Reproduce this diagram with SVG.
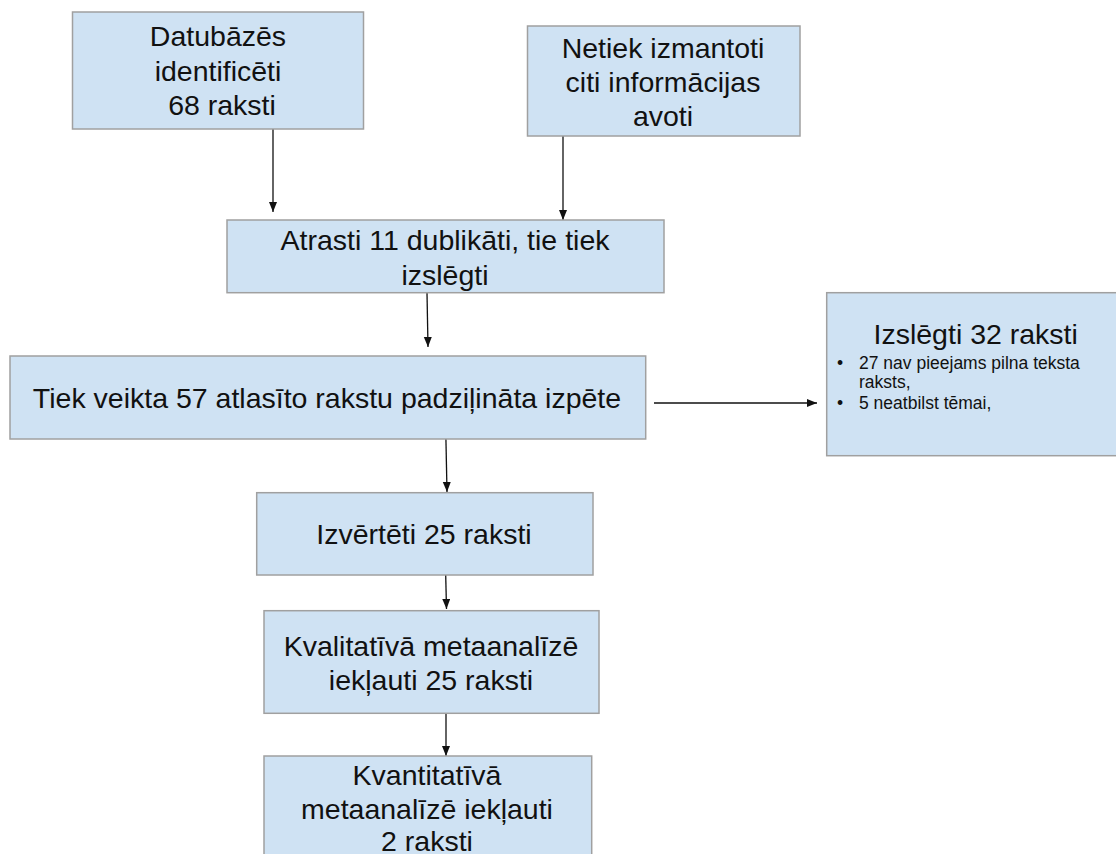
<svg xmlns="http://www.w3.org/2000/svg" width="1116" height="854" viewBox="0 0 1116 854">
  <style>
    .box { fill: #cfe2f3; stroke: #a0a0a0; stroke-width: 1.5; }
    .t { font-family: "Liberation Sans", Arial, sans-serif; font-size: 28.5px; fill: #111; text-anchor: middle; }
    .s { font-family: "Liberation Sans", Arial, sans-serif; font-size: 17.5px; fill: #111; }
    .c { stroke: #111; stroke-width: 1.3; fill: none; marker-end: url(#ah); }
  </style>
  <defs>
    <marker id="ah" markerUnits="userSpaceOnUse" markerWidth="11" markerHeight="9" refX="10" refY="4" orient="auto">
      <path d="M0,0 L10,4 L0,8 z" fill="#111"/>
    </marker>
  </defs>
  <rect width="1116" height="854" fill="#ffffff"/>

  <g id="connectors">
    <line class="c" x1="273" y1="122" x2="273" y2="212"/>
    <line class="c" x1="563" y1="129" x2="563" y2="220"/>
    <line class="c" x1="427" y1="293" x2="428" y2="347"/>
    <line class="c" x1="654" y1="403" x2="817" y2="403"/>
    <line class="c" x1="445.7" y1="428" x2="447" y2="492"/>
    <line class="c" x1="445.7" y1="575" x2="446.5" y2="609"/>
    <line class="c" x1="446" y1="702" x2="446" y2="756"/>
  </g>

  <g id="node-databases">
    <rect class="box" x="72.5" y="12" width="291" height="117"/>
    <text class="t" x="218" y="46">Datubāzēs</text>
    <text class="t" x="218" y="81">identificēti</text>
    <text class="t" x="222" y="115">68 raksti</text>
  </g>

  <g id="node-other-sources">
    <rect class="box" x="527.5" y="26" width="272.5" height="110"/>
    <text class="t" x="663" y="57.7">Netiek izmantoti</text>
    <text class="t" x="663" y="91.7">citi informācijas</text>
    <text class="t" x="663" y="126">avoti</text>
  </g>

  <g id="node-duplicates">
    <rect class="box" x="227" y="220" width="437" height="72.7"/>
    <text class="t" x="445" y="250">Atrasti 11 dublikāti, tie tiek</text>
    <text class="t" x="445" y="285">izslēgti</text>
  </g>

  <g id="node-indepth">
    <rect class="box" x="10" y="356" width="635.7" height="83"/>
    <text class="t" x="327" y="408.3">Tiek veikta 57 atlasīto rakstu padziļināta izpēte</text>
  </g>

  <g id="node-excluded">
    <rect class="box" x="826.7" y="292.7" width="300" height="163"/>
    <text class="t" x="975.7" y="344">Izslēgti 32 raksti</text>
    <text class="s" x="837" y="369">•</text>
    <text class="s" x="859" y="369">27 nav pieejams pilna teksta</text>
    <text class="s" x="859" y="387.5">raksts,</text>
    <text class="s" x="837" y="409">•</text>
    <text class="s" x="859" y="409">5 neatbilst tēmai,</text>
  </g>

  <g id="node-evaluated">
    <rect class="box" x="256.7" y="492.7" width="336.3" height="82.3"/>
    <text class="t" x="424" y="544">Izvērtēti 25 raksti</text>
  </g>

  <g id="node-qualitative">
    <rect class="box" x="264" y="610.7" width="335" height="102.6"/>
    <text class="t" x="431" y="655.7">Kvalitatīvā metaanalīzē</text>
    <text class="t" x="431" y="690">iekļauti 25 raksti</text>
  </g>

  <g id="node-quantitative">
    <rect class="box" x="264" y="756" width="327.7" height="120"/>
    <text class="t" x="427" y="785">Kvantitatīvā</text>
    <text class="t" x="427" y="819">metaanalīzē iekļauti</text>
    <text class="t" x="427" y="850.5">2 raksti</text>
  </g>
</svg>
